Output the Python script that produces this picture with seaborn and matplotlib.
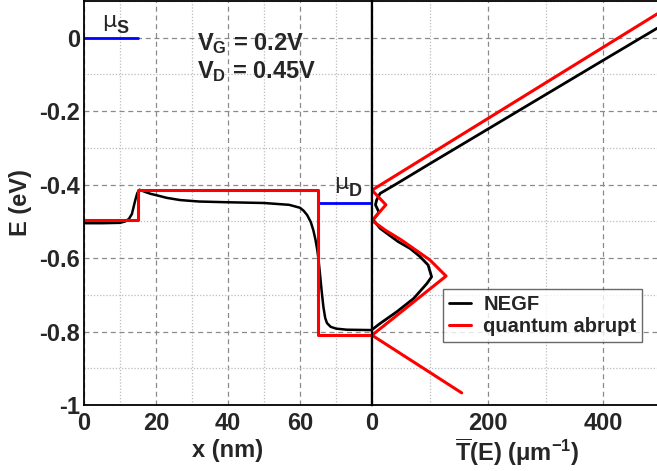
import matplotlib
matplotlib.use("Agg")
import matplotlib.pyplot as plt
from matplotlib.ticker import MultipleLocator, FixedLocator, FuncFormatter
import seaborn as sns
import pandas as pd

# ---------------- data ----------------
# left panel: band profile along x (nm)
negf_x = [0, 5, 10, 11.5, 12.5, 13.3, 13.8, 14.3, 14.8, 15.4, 16, 17, 18.5, 20.6, 23, 26.7, 32,
          40, 50, 57, 60, 61, 62, 63, 63.7, 64.3, 64.8, 65.1, 65.6, 66, 66.5, 67, 67.5, 68.5,
          70, 73, 80]
negf_E = [-0.505, -0.505, -0.504, -0.500, -0.493, -0.480, -0.460, -0.440, -0.423, -0.414,
          -0.416, -0.420, -0.425, -0.430, -0.436, -0.442, -0.446, -0.448, -0.450, -0.455,
          -0.463, -0.471, -0.483, -0.502, -0.524, -0.550, -0.578, -0.600, -0.648, -0.688,
          -0.733, -0.763, -0.777, -0.787, -0.792, -0.795, -0.796]
abrupt_x = [0, 15, 15, 65, 65, 80]
abrupt_E = [-0.495, -0.495, -0.415, -0.415, -0.81, -0.81]
muS_x = [0, 15]
muS_E = [0.0, 0.0]
muD_x = [65, 80]
muD_E = [-0.45, -0.45]

# right panel: transmission T(E) (um^-1)
negf_T = [493, 400, 300, 200, 100, 40, 14, 8, 6, 9, 12, 6, 2, 14, 45, 66, 83, 97, 103, 95,
          72, 43, 14, 0]
negf_TE = [0.026, -0.061, -0.155, -0.249, -0.343, -0.400, -0.424, -0.442, -0.455, -0.465,
           -0.475, -0.488, -0.496, -0.519, -0.555, -0.574, -0.596, -0.619, -0.651, -0.669,
           -0.710, -0.746, -0.778, -0.795]
abrupt_T = [155, 0, 128, 100, 51, 24, 0, 24, 0, 493]
abrupt_TE = [-0.967, -0.81, -0.649, -0.605, -0.551, -0.525, -0.498, -0.455, -0.415, 0.065]

x_ticks = [0, 20, 40, 60]
t_ticks = [0, 200, 400]
e_ticks = [0, -0.2, -0.4, -0.6, -0.8, -1.0]

# ---------------- style ----------------
sns.set_theme(style="white")
plt.rcParams["font.family"] = ["Liberation Sans", "DejaVu Sans"]
plt.rcParams["font.weight"] = "bold"
plt.rcParams["axes.unicode_minus"] = False
plt.rcParams["mathtext.fontset"] = "custom"
plt.rcParams["mathtext.rm"] = "Liberation Sans:bold"
plt.rcParams["mathtext.bf"] = "Liberation Sans:bold"
plt.rcParams["mathtext.it"] = "Liberation Sans:bold"

FS = 17
RED = "#ff0000"
BLUE = "#0000ff"
W, H = 657, 471
fig = plt.figure(figsize=(W / 100, H / 100), dpi=100)

top = 1 - 1 / H
bot = 1 - 405 / H
axL = fig.add_axes([84 / W, bot, 288 / W, top - bot])
axR = fig.add_axes([372 / W, bot, 289.3 / W, top - bot])

grid_major = dict(color="#8a8a8a", ls=(0, (4, 3)), lw=0.9)
grid_minor = dict(color="#bdbdbd", ls=(0, (1, 1.5)), lw=0.9)

for ax in (axL, axR):
    ax.set_ylim(-1.0, 0.1)
    ax.yaxis.set_major_locator(FixedLocator(e_ticks))
    ax.yaxis.set_minor_locator(MultipleLocator(0.1))
    ax.grid(True, which="major", **grid_major)
    ax.grid(True, which="minor", **grid_minor)
    ax.set_axisbelow(True)
    ax.tick_params(which="both", length=0, labelsize=FS)
    ax.tick_params(axis="x", pad=5)
    ax.tick_params(axis="y", pad=3)
    for s in ax.spines.values():
        s.set_color("black")
        s.set_linewidth(1.3)

# left panel
axL.set_xlim(0, 80)
axL.xaxis.set_major_locator(FixedLocator(x_ticks))
axL.xaxis.set_minor_locator(FixedLocator([10, 30, 50, 70]))
axL.yaxis.set_major_formatter(
    FuncFormatter(lambda v, p: "0" if abs(v) < 1e-9 else ("-1" if abs(v + 1) < 1e-9 else f"{v:.1f}")))

sns.lineplot(x=muS_x, y=muS_E, ax=axL, color=BLUE, lw=2, sort=False, estimator=None)
sns.lineplot(x=muD_x, y=muD_E, ax=axL, color=BLUE, lw=2, sort=False, estimator=None)
sns.lineplot(x=negf_x, y=negf_E, ax=axL, color="black", lw=1.8, sort=False, estimator=None)
sns.lineplot(x=abrupt_x, y=abrupt_E, ax=axL, color=RED, lw=2.2, sort=False, estimator=None)
axL.spines["right"].set_linewidth(1.6)

axL.set_xlabel("x (nm)", fontsize=FS, fontweight="bold", labelpad=3)
axL.set_ylabel("E (eV)", fontsize=FS, fontweight="bold", labelpad=5)

axL.text(31.4, -0.033, r"V$_{\mathbf{G}}$ = 0.2V", fontsize=FS, fontweight="bold", va="baseline")
axL.text(31.4, -0.109, r"V$_{\mathbf{D}}$ = 0.45V", fontsize=FS, fontweight="bold", va="baseline")
axL.text(4.9, 0.03, "μ", fontsize=16, fontweight="normal", va="baseline", family=["DejaVu Sans"])
axL.text(9.0, 0.012, "S", fontsize=13, fontweight="bold", va="baseline")
axL.text(69.5, -0.413, "μ", fontsize=16, fontweight="normal", va="baseline", family=["DejaVu Sans"])
axL.text(73.5, -0.432, "D", fontsize=13, fontweight="bold", va="baseline")

# right panel
axR.set_xlim(0, 500)
axR.xaxis.set_major_locator(FixedLocator(t_ticks))
axR.xaxis.set_minor_locator(FixedLocator([100, 300]))
axR.tick_params(axis="y", labelleft=False)
axR.spines["left"].set_linewidth(1.6)
axR.spines["left"].set_zorder(5)

dfN = pd.DataFrame({"T": negf_T, "E": negf_TE})
dfA = pd.DataFrame({"T": abrupt_T, "E": abrupt_TE})
sns.lineplot(data=dfN, x="T", y="E", ax=axR, color="black", lw=2.0, sort=False,
             estimator=None, label="NEGF")
sns.lineplot(data=dfA, x="T", y="E", ax=axR, color=RED, lw=2.2, sort=False,
             estimator=None, label="quantum abrupt")
axR.set_xlabel(r"$\overline{\mathbf{T}}$(E) (μm$^{\mathbf{-1}}$)", fontsize=FS,
               fontweight="bold", labelpad=1)
axR.set_ylabel("")

for ax in (axL, axR):
    for lbl in ax.get_xticklabels() + ax.get_yticklabels():
        lbl.set_fontweight("bold")
        lbl.set_fontsize(FS)

leg = axR.legend(loc="upper left", bbox_to_anchor=(443 / W, 1 - 289 / H),
                 bbox_transform=fig.transFigure, fontsize=14.5, frameon=True, fancybox=False,
                 handlelength=1.1, handletextpad=0.6, borderpad=0.3, labelspacing=0.15,
                 borderaxespad=0)
leg.get_frame().set_edgecolor("#444444")
leg.get_frame().set_linewidth(1.0)
for t in leg.get_texts():
    t.set_fontweight("bold")

fig.savefig("out.png", dpi=100)
